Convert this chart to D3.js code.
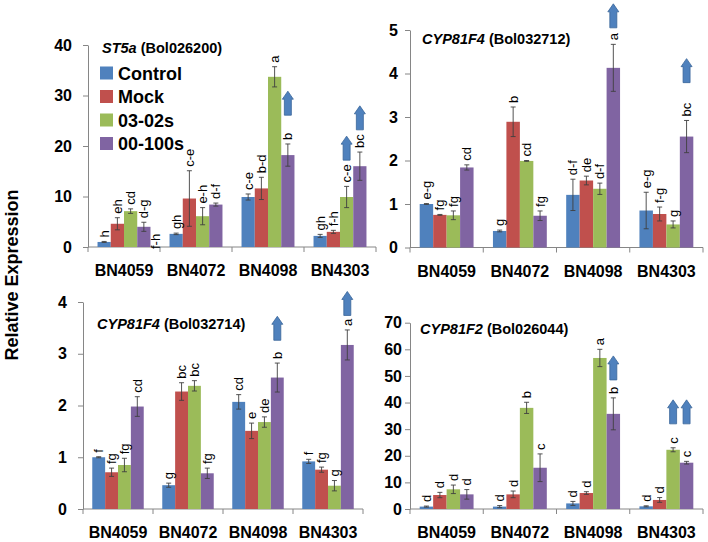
<!DOCTYPE html>
<html>
<head>
<meta charset="utf-8">
<script src="https://cdn.jsdelivr.net/npm/d3@7"></script>
<style>
  html, body { margin: 0; padding: 0; background: #fff; }
  svg { display: block; font-family: "Liberation Sans", Arial, sans-serif; }
</style>
</head>
<body>
<svg id="chart" width="708" height="542"></svg>
<script>
// ---------- DATA ----------
const categories = ["BN4059", "BN4072", "BN4098", "BN4303"];
const seriesNames = ["Control", "Mock", "03-02s", "00-100s"];
const seriesColors = ["#4F81BD", "#C0504D", "#9BBB59", "#8064A2"];

// ST5a (Bol026200)
const st5aValues  = [[1.0, 4.6, 7.1, 4.0], [2.6, 9.6, 6.1, 8.4], [9.9, 11.6, 33.7, 18.2], [2.2, 3.0, 9.9, 16.0]];
const st5aErrors  = [[0.1, 1.2, 0.45, 0.9], [0.15, 5.5, 1.7, 0.3], [0.6, 2.2, 2.0, 2.2], [0.3, 0.3, 2.1, 2.8]];
const st5aLetters = [["h", "eh", "cd", "d-g"], ["gh", "c-e", "e-h", "d-f"], ["c-e", "b-d", "a", "b"], ["gh", "f-h", "c-e", "bc"]];
const st5aTicks   = [0, 10, 20, 30, 40];

// CYP81F4 (Bol032712)
const f4aValues  = [[1.0, 0.75, 0.74, 1.84], [0.38, 2.89, 1.99, 0.73], [1.21, 1.54, 1.35, 4.13], [0.85, 0.77, 0.53, 2.55]];
const f4aErrors  = [[0.01, 0.01, 0.1, 0.06], [0.02, 0.34, 0.01, 0.11], [0.36, 0.1, 0.13, 0.54], [0.42, 0.16, 0.08, 0.37]];
const f4aLetters = [["e-g", "fg", "fg", "cd"], ["g", "b", "cd", "fg"], ["d-f", "de", "d-f", "a"], ["e-g", "f-g", "g", "bc"]];
const f4aTicks   = [0, 1, 2, 3, 4, 5];

// CYP81F4 (Bol032714)
const f4bValues  = [[1.0, 0.71, 0.85, 1.98], [0.46, 2.27, 2.38, 0.69], [2.07, 1.51, 1.68, 2.54], [0.92, 0.76, 0.45, 3.17]];
const f4bErrors  = [[0.01, 0.08, 0.13, 0.19], [0.04, 0.17, 0.1, 0.1], [0.14, 0.15, 0.1, 0.28], [0.04, 0.05, 0.1, 0.29]];
const f4bLetters = [["f", "fg", "fg", "cd"], ["g", "bc", "bc", "fg"], ["cd", "e", "de", "b"], ["f", "fg", "g", "a"]];
const f4bTicks   = [0, 1, 2, 3, 4];

// CYP81F2 (Bol026044)
const f2Values  = [[0.9, 5.25, 7.4, 5.5], [0.9, 5.5, 38, 15.5], [2.1, 6.0, 56.75, 35.75], [1.0, 3.4, 22.25, 17.4]];
const f2Errors  = [[0.2, 1.0, 1.6, 1.8], [0.4, 1.25, 2.1, 5.2], [0.75, 0.5, 3.25, 6.0], [0.2, 0.9, 0.75, 0.5]];
const f2Letters = [["d", "d", "d", "d"], ["d", "d", "b", "c"], ["d", "d", "a", "b"], ["d", "d", "c", "c"]];
const f2Ticks   = [0, 10, 20, 30, 40, 50, 60, 70];

// Up-arrow annotations: [category, series, value at arrow base]
const st5aArrows = [["BN4098", "00-100s", 26.1], ["BN4303", "03-02s", 17.2], ["BN4303", "00-100s", 23.2]];
const f4aArrows  = [["BN4098", "00-100s", 5.05], ["BN4303", "00-100s", 3.79]];
const f4bArrows  = [["BN4098", "00-100s", 3.26], ["BN4303", "00-100s", 3.74]];
const f2Arrows   = [["BN4098", "00-100s", 48.5], ["BN4303", "03-02s", 32], ["BN4303", "00-100s", 32]];

// ---------- LAYOUT ----------
const panels = [
  { gene: "ST5a", id: " (Bol026200)", values: st5aValues, errors: st5aErrors, letters: st5aLetters, ticks: st5aTicks,
    arrows: st5aArrows, x0: 88, x1: 376, yBase: 247, yTop: 45, labelGap: 16, titleX: 102, titleY: 53, legend: true },
  { gene: "CYP81F4", id: " (Bol032712)", values: f4aValues, errors: f4aErrors, letters: f4aLetters, ticks: f4aTicks,
    arrows: f4aArrows, x0: 410, x1: 703, yBase: 247.5, yTop: 30, labelGap: 12, titleX: 422, titleY: 44 },
  { gene: "CYP81F4", id: " (Bol032714)", values: f4bValues, errors: f4bErrors, letters: f4bLetters, ticks: f4bTicks,
    arrows: f4bArrows, x0: 83, x1: 363, yBase: 509, yTop: 302, labelGap: 16, titleX: 97, titleY: 329 },
  { gene: "CYP81F2", id: " (Bol026044)", values: f2Values, errors: f2Errors, letters: f2Letters, ticks: f2Ticks,
    arrows: f2Arrows, x0: 410, x1: 703, yBase: 509, yTop: 322.7, labelGap: 8, titleX: 420, titleY: 334 }
];

const svg = d3.select("#chart");
const axisColor = "#868686";

panels.forEach((p, pi) => {
  const g = svg.append("g");
  const yMax = p.ticks[p.ticks.length - 1];
  const y = d3.scaleLinear().domain([0, yMax]).range([p.yBase, p.yTop]);
  const xCat = d3.scaleBand().domain(categories).range([p.x0, p.x1]).padding(0);
  const xSer = d3.scaleBand().domain(seriesNames).range([0, xCat.bandwidth()]).paddingInner(0).paddingOuter(0.72);

  // y axis
  const yAxis = d3.axisLeft(y).tickValues(p.ticks).tickFormat(d3.format("d"))
    .tickSizeInner(5).tickSizeOuter(0).tickPadding(p.labelGap - 5);
  const ya = g.append("g").attr("transform", `translate(${p.x0},0)`).call(yAxis);
  ya.select(".domain").attr("stroke", axisColor);
  ya.selectAll(".tick line").attr("stroke", axisColor);
  ya.selectAll(".tick text").attr("font-size", 16).attr("font-weight", "bold").attr("fill", "#000")
    .attr("font-family", "Liberation Sans, Arial, sans-serif");

  // x axis line and boundary ticks
  g.append("line").attr("x1", p.x0).attr("x2", p.x1).attr("y1", y(0)).attr("y2", y(0)).attr("stroke", axisColor);
  const bounds = categories.map(c => xCat(c)).concat([p.x1]);
  g.selectAll(".xtick").data(bounds).enter().append("line")
    .attr("x1", d => d).attr("x2", d => d).attr("y1", y(0)).attr("y2", y(0) + 5).attr("stroke", axisColor);
  g.selectAll(".xlab").data(categories).enter().append("text")
    .attr("x", d => xCat(d) + xCat.bandwidth() / 2).attr("y", y(0) + 29)
    .attr("text-anchor", "middle").attr("font-size", 16).attr("font-weight", "bold").text(d => d);

  // bars
  const rows = [];
  categories.forEach((c, ci) => seriesNames.forEach((s, si) => {
    rows.push({ c, s, si, v: p.values[ci][si], e: p.errors[ci][si], l: p.letters[ci][si] });
  }));
  const cx = d => xCat(d.c) + xSer(d.s) + xSer.bandwidth() / 2;
  g.selectAll(".bar").data(rows).enter().append("rect")
    .attr("x", d => xCat(d.c) + xSer(d.s)).attr("width", xSer.bandwidth())
    .attr("y", d => y(d.v)).attr("height", d => y(0) - y(d.v))
    .attr("fill", d => seriesColors[d.si]);

  // error bars
  const eb = g.selectAll(".err").data(rows).enter().append("g").attr("stroke", "#404040").attr("stroke-width", 0.9);
  eb.append("line").attr("x1", cx).attr("x2", cx).attr("y1", d => y(d.v + d.e)).attr("y2", d => y(d.v - d.e));
  eb.append("line").attr("x1", d => cx(d) - 2.5).attr("x2", d => cx(d) + 2.5).attr("y1", d => y(d.v + d.e)).attr("y2", d => y(d.v + d.e));
  eb.append("line").attr("x1", d => cx(d) - 2.5).attr("x2", d => cx(d) + 2.5).attr("y1", d => y(d.v - d.e)).attr("y2", d => y(d.v - d.e));

  // significance letters (rotated)
  g.selectAll(".let").data(rows).enter().append("text")
    .attr("transform", d => `translate(${cx(d)},${y(d.v + d.e) - 4}) rotate(-90)`)
    .attr("dy", "0.35em").attr("font-size", 13).attr("fill", "#000").text(d => d.l);

  // arrows
  g.selectAll(".arrow").data(p.arrows).enter().append("path")
    .attr("d", d => {
      const ax = xCat(d[0]) + xSer(d[1]) + xSer.bandwidth() / 2;
      const yb = y(d[2]);
      const L = 24, sw = 3.5, hw = 5.5, hl = 8;
      return `M${ax - sw},${yb} L${ax - sw},${yb - L + hl} L${ax - hw},${yb - L + hl} L${ax},${yb - L} L${ax + hw},${yb - L + hl} L${ax + sw},${yb - L + hl} L${ax + sw},${yb} Z`;
    })
    .attr("fill", "#4F81BD").attr("stroke", "#3A6699").attr("stroke-width", 0.8);

  // title
  const t = g.append("text").attr("x", p.titleX).attr("y", p.titleY).attr("font-size", 14.5).attr("font-weight", "bold");
  t.append("tspan").attr("font-style", "italic").text(p.gene);
  t.append("tspan").text(p.id);

  // stray label in first panel
  if (pi === 0) {
    g.append("text")
      .attr("transform", `translate(${xCat("BN4059") + xCat.bandwidth() - 5},${y(0) + 2}) rotate(-90)`)
      .attr("dy", "0.35em").attr("font-size", 13).text("f-h");
  }

  // legend
  if (p.legend) {
    const lg = g.append("g");
    seriesNames.forEach((s, i) => {
      const cy = 73 + i * 23.5;
      lg.append("rect").attr("x", 100).attr("y", cy - 6.5).attr("width", 13).attr("height", 13).attr("fill", seriesColors[i]);
      lg.append("text").attr("x", 118).attr("y", cy + 6.5).attr("font-size", 18).attr("font-weight", "bold").text(s);
    });
  }
});

// y-axis title
svg.append("text").attr("transform", "translate(18,275) rotate(-90)")
  .attr("text-anchor", "middle").attr("font-size", 18).attr("font-weight", "bold").text("Relative Expression");
</script>
</body>
</html>
